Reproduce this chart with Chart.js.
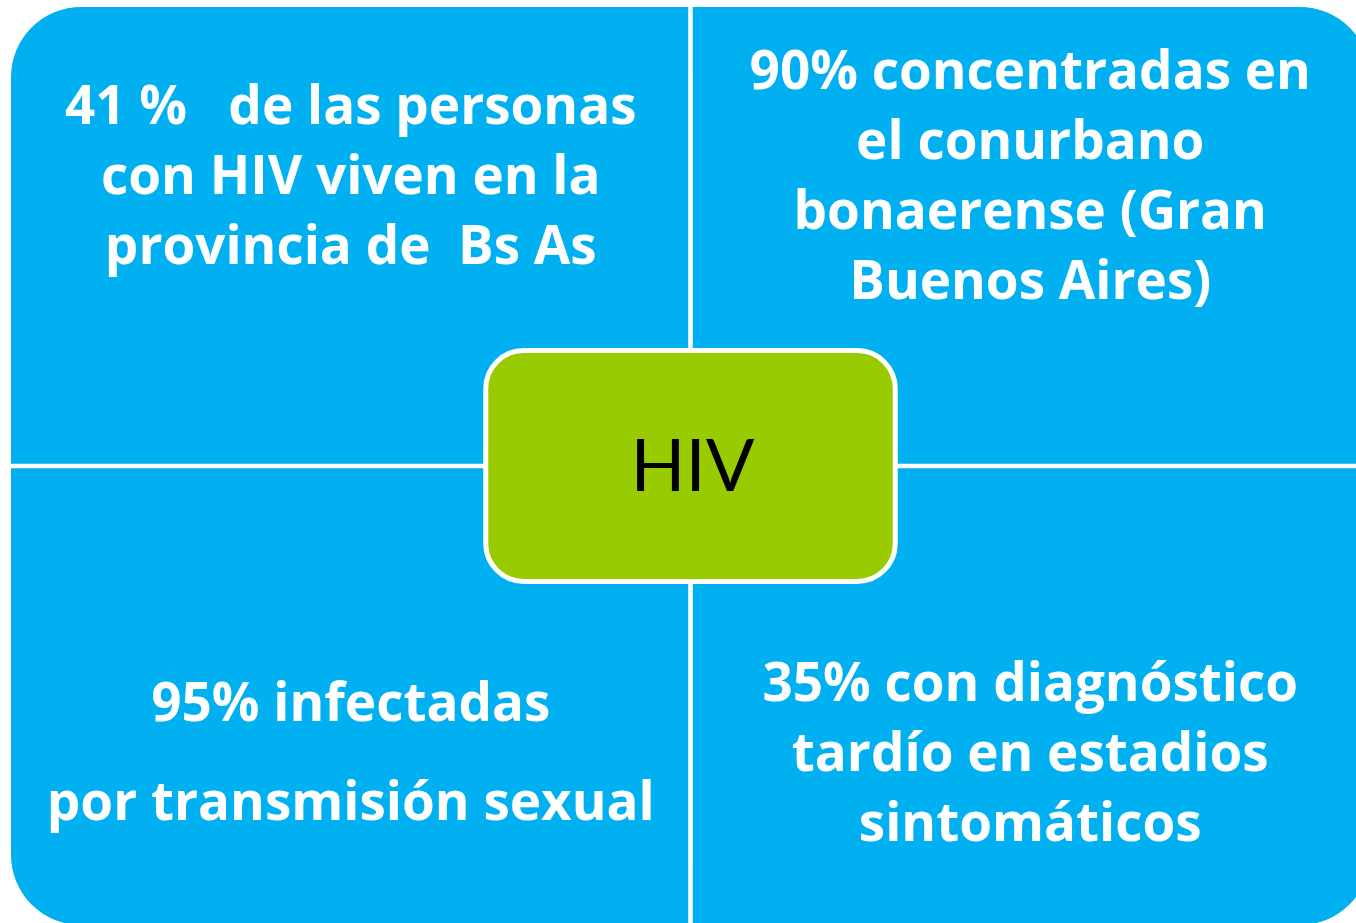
<!DOCTYPE html>
<html>
<head>
<meta charset="utf-8">
<script src="https://cdn.jsdelivr.net/npm/chart.js@4.4.1/dist/chart.umd.min.js"></script>
<style>
  html, body { margin: 0; padding: 0; background: #fff; overflow: hidden; }
  #wrap { width: 1372px; height: 927px; }
</style>
</head>
<body>
<div id="wrap"><canvas id="myChart"></canvas></div>
<script>
// data

const columns = ['izquierda', 'derecha'];
const bottomRow = [1, 1];
const topRow = [1, 1];

const topTexts = [
  ['41 %   de las personas', 'con HIV viven en la', 'provincia de  Bs As'],
  ['90% concentradas en', 'el conurbano', 'bonaerense (Gran', 'Buenos Aires)']
];
const bottomTexts = [
  ['95% infectadas', 'por transmisión sexual'],
  ['35% con diagnóstico', 'tardío en estadios', 'sintomáticos']
];
const centerLabel = 'HIV';

// styles

const blue = '#00B0F0';
const green = '#99CC00';
const radius = 70;
const gap = 2.6;
const textFont = '"Open Sans"';

// texts + center box
const matrixPlugin = {
  id: 'matrix',
  afterDatasetsDraw(chart) {
    const ctx = chart.ctx;
    const x = chart.scales.x;
    const y = chart.scales.y;

    // center box, placed on the scales around the middle of the grid
    const bx1 = x.getPixelForValue(0.5 - 0.305);
    const bx2 = x.getPixelForValue(0.5 + 0.305);
    const by1 = y.getPixelForValue(1.257);
    const by2 = y.getPixelForValue(0.743);

    const drawLines = (lines, cx, cy, size, step) => {
      ctx.font = 'bold ' + size + 'px ' + textFont;
      ctx.fillStyle = '#fff';
      ctx.textAlign = 'center';
      ctx.textBaseline = 'alphabetic';
      let first = cy + size * 0.36 - (lines.length - 1) * step / 2;
      lines.forEach((l, i) => ctx.fillText(l, cx, first + i * step));
    };

    ctx.save();
    chart.getDatasetMeta(1).data.forEach((bar, i) => {
      drawLines(topTexts[i], bar.x, (bar.y + by1) / 2 - 3, 53, 70);
    });
    chart.getDatasetMeta(0).data.forEach((bar, i) => {
      drawLines(bottomTexts[i], bar.x, (bar.base + by2) / 2 - 3, 53, i == 0 ? 99 : 70);
    });

    ctx.beginPath();
    ctx.roundRect(bx1 + 2.5, by1 + 2.5, bx2 - bx1 - 5, by2 - by1 - 5, 38);
    ctx.fillStyle = green;
    ctx.fill();
    ctx.lineWidth = 5;
    ctx.strokeStyle = '#fff';
    ctx.stroke();

    ctx.font = '72px Lato';
    ctx.fillStyle = '#000';
    ctx.textAlign = 'center';
    ctx.textBaseline = 'alphabetic';
    ctx.fillText(centerLabel, (bx1 + bx2) / 2 + 2, (by1 + by2) / 2 + 25);
    ctx.restore();
  }
};

const ctx = document.getElementById('myChart').getContext('2d');
const myChart = new Chart(ctx, {
  type: 'bar',
  data: {
    labels: columns,
    datasets: [{
      label: 'abajo',
      data: bottomRow,
      backgroundColor: blue,
      borderColor: '#fff',
      borderSkipped: false,
      borderWidth: c => c.dataIndex == 0 ? {top: gap, right: gap, bottom: 0, left: 0} : {top: gap, left: gap, bottom: 0, right: 0},
      borderRadius: c => c.dataIndex == 0 ? {bottomLeft: radius} : {bottomRight: radius},
    },
    {
      label: 'arriba',
      data: topRow,
      backgroundColor: blue,
      borderColor: '#fff',
      borderSkipped: false,
      borderWidth: c => c.dataIndex == 0 ? {bottom: gap, right: gap, top: 0, left: 0} : {bottom: gap, left: gap, top: 0, right: 0},
      borderRadius: c => c.dataIndex == 0 ? {topLeft: radius} : {topRight: radius},
    }]
  },
  options: {
    animation: false,
    responsive: true,
    maintainAspectRatio: false,
    layout: { padding: { left: 11, top: 7, right: 2, bottom: 2 } },
    datasets: { bar: { categoryPercentage: 1, barPercentage: 1 } },
    scales: {
      x: { stacked: true, display: false },
      y: { stacked: true, display: false, min: 0, max: 2 }
    },
    plugins: {
      legend: { display: false },
      tooltip: { enabled: false }
    }
  },
  plugins: [matrixPlugin]
});
</script>
</body>
</html>
